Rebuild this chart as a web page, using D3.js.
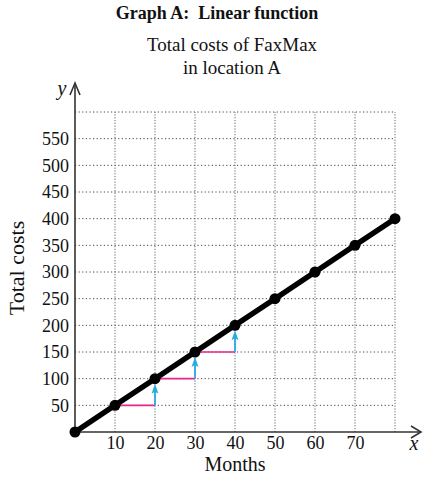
<!DOCTYPE html>
<html><head><meta charset="utf-8">
<script src="https://cdn.jsdelivr.net/npm/d3@7"></script>
<style>
body{margin:0;background:#fff;}
text{font-family:"Liberation Serif","Times New Roman",serif;fill:#111;}
</style></head>
<body><svg id="c" width="423" height="483"></svg>
<script>
const months = [0,10,20,30,40,50,60,70,80];
const costs  = [0,50,100,150,200,250,300,350,400];
const xTicks = [10,20,30,40,50,60,70];
const yTicks = [50,100,150,200,250,300,350,400,450,500,550];
const xGrid = [10,20,30,40,50,60,70,80];
const yGrid = [50,100,150,200,250,300,350,400,450,500,550,600];
const steps = [[10,50,20,100],[20,100,30,150],[30,150,40,200]];

const svg = d3.select("#c");
const x = d3.scaleLinear().domain([0,80]).range([75,395]);
const y = d3.scaleLinear().domain([0,600]).range([432,112]);

// grid
svg.append("g").selectAll("line").data(yGrid).join("line")
  .attr("x1",x(0)).attr("x2",x(80)).attr("y1",d=>y(d)).attr("y2",d=>y(d))
  .attr("stroke","#444").attr("stroke-width",1).attr("stroke-dasharray","1.2,2.4");
svg.append("g").selectAll("line").data(xGrid).join("line")
  .attr("y1",y(0)).attr("y2",y(600)).attr("x1",d=>x(d)).attr("x2",d=>x(d))
  .attr("stroke","#666").attr("stroke-width",1).attr("stroke-dasharray","1.2,1.6");

// axes lines with open arrows
const ax = svg.append("g").attr("stroke","#333").attr("stroke-width",1.6).attr("fill","none");
ax.append("line").attr("x1",x(0)).attr("y1",y(0)).attr("x2",421).attr("y2",y(0));
ax.append("path").attr("d",`M411,${y(0)-6} L421,${y(0)} L411,${y(0)+6}`);
ax.append("line").attr("x1",x(0)).attr("y1",y(0)).attr("x2",x(0)).attr("y2",83);
ax.append("path").attr("d",`M${x(0)-5},95 L${x(0)},83 L${x(0)+5},95`);

// tick labels via axes
const xa = svg.append("g").attr("transform",`translate(0,${y(0)})`)
  .call(d3.axisBottom(x).tickValues(xTicks).tickSize(0).tickPadding(4));
xa.select(".domain").remove();
xa.selectAll("text").attr("font-size",18).attr("font-family","Liberation Serif").attr("fill","#111");
const ya = svg.append("g").attr("transform",`translate(${x(0)-5},0)`)
  .call(d3.axisLeft(y).tickValues(yTicks).tickSize(0).tickPadding(1));
ya.select(".domain").remove();
ya.selectAll("text").attr("font-size",18).attr("font-family","Liberation Serif").attr("fill","#111");

// pink steps and cyan arrows
svg.append("g").selectAll("line").data(steps).join("line")
  .attr("x1",d=>x(d[0])).attr("x2",d=>x(d[2])).attr("y1",d=>y(d[1])).attr("y2",d=>y(d[1]))
  .attr("stroke","#e8278f").attr("stroke-width",1.6);
const ar = svg.append("g");
ar.selectAll("line").data(steps).join("line")
  .attr("x1",d=>x(d[2])).attr("x2",d=>x(d[2])).attr("y1",d=>y(d[1])).attr("y2",d=>y(d[3])+9)
  .attr("stroke","#29abe2").attr("stroke-width",1.8);
ar.selectAll("path").data(steps).join("path")
  .attr("d",d=>{const cx=x(d[2]), t=y(d[3])+5; return `M${cx},${t} L${cx+3.5},${t+10} L${cx},${t+8} L${cx-3.5},${t+10} Z`;})
  .attr("fill","#29abe2");

// main line
const line = d3.line().x((d,i)=>x(months[i])).y(d=>y(d));
svg.append("path").datum(costs).attr("d",line).attr("fill","none")
  .attr("stroke","#000").attr("stroke-width",5.5).attr("stroke-linecap","round");
svg.append("g").selectAll("circle").data(costs).join("circle")
  .attr("cx",(d,i)=>x(months[i])).attr("cy",d=>y(d)).attr("r",5.5).attr("fill","#000");

// texts
svg.append("text").attr("x",217).attr("y",19).attr("text-anchor","middle")
  .attr("font-size",18).attr("font-weight","bold").style("white-space","pre").text("Graph A:  Linear function");
svg.append("text").attr("x",232).attr("y",51).attr("text-anchor","middle").attr("font-size",19).text("Total costs of FaxMax");
svg.append("text").attr("x",232).attr("y",74).attr("text-anchor","middle").attr("font-size",19).text("in location A");
svg.append("text").attr("x",235).attr("y",471).attr("text-anchor","middle").attr("font-size",20).text("Months");
svg.append("text").attr("transform",`translate(24,268) rotate(-90)`).attr("text-anchor","middle").attr("font-size",22).text("Total costs");
svg.append("text").attr("x",62).attr("y",95).attr("text-anchor","middle").attr("font-size",20).attr("font-style","italic").text("y");
svg.append("text").attr("x",414).attr("y",450).attr("text-anchor","middle").attr("font-size",20).attr("font-style","italic").text("x");
</script></body></html>
